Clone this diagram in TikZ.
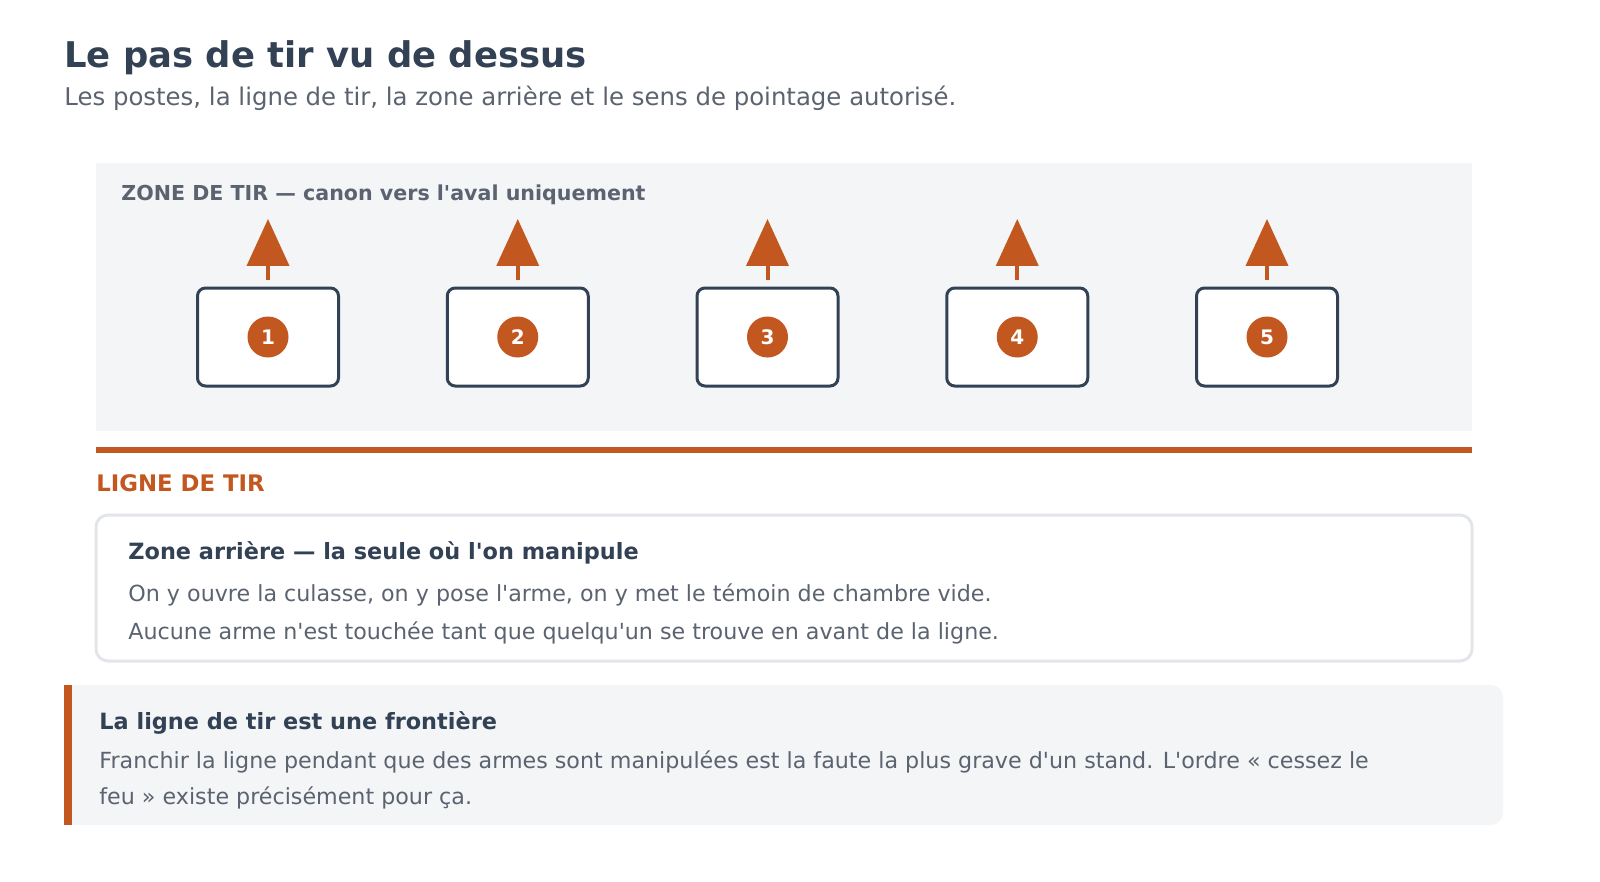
\documentclass[tikz,border=0pt]{standalone}
\usepackage{fontspec}
\setmainfont{DejaVu Sans}[Ligatures=TeXOff]
\usetikzlibrary{arrows.meta}

\definecolor{slate}{HTML}{334155}
\definecolor{muted}{HTML}{5C6370}
\definecolor{rust}{HTML}{C2571F}
\definecolor{panel}{HTML}{F3F5F7}
\definecolor{rim}{HTML}{E2E5EA}

\tikzset{
  post/.style={draw=slate, line width=1.5pt, fill=white, rounded corners=4pt,
    minimum width=70.5pt, minimum height=49pt, inner sep=0pt},
  badge/.style={circle, fill=rust, text=white, minimum size=20.5pt, inner sep=0pt,
    font=\bfseries\fontsize{10}{12}\selectfont},
  aim/.style={rust, line width=2pt, -{Triangle[width=21pt, length=23.5pt]}},
  txt/.style={anchor=base west, inner sep=0pt},
}

\begin{document}
\begin{tikzpicture}[x=0.5pt, y=-0.5pt]
% Parameters
\def\postnum{5}
\def\postgap{249.75}

\useasboundingbox[fill=white] (0,0) rectangle (1600,882);

% === Header ===
\node[txt, text=slate, font=\bfseries\fontsize{17.7}{21}\selectfont]
  (Title) at (64,68) {Le pas de tir vu de dessus};
\node[txt, text=muted, font=\fontsize{12.2}{14}\selectfont]
  (Subtitle) at (64,106) {Les postes, la ligne de tir, la zone arrière et le sens de pointage autorisé.};

% === Zone de tir ===
\fill[panel] (96,163) rectangle (1472,431);
\node[txt, text=muted, font=\bfseries\fontsize{10.3}{12}\selectfont]
  (ZoneLabel) at (121,201) {ZONE DE TIR — canon vers l'aval uniquement};

\foreach \i in {1,...,\postnum}{
  \node[post] (Post-\i) at ({268+(\i-1)*\postgap},337) {};
  \node[badge] (Badge-\i) at (Post-\i.center) {\i};
  \coordinate (Tip-\i) at ({268+(\i-1)*\postgap},219);
  \draw[aim] ([yshift=3.5pt]Post-\i.north) -- (Tip-\i);
}

% === Ligne de tir ===
\coordinate (LineL) at (96,450);
\coordinate (LineR) at (1472,450);
\draw[rust, line width=3pt] (LineL) -- (LineR);
\node[txt, text=rust, font=\bfseries\fontsize{11.4}{13}\selectfont]
  (LineLabel) at (96,491) {LIGNE DE TIR};

% === Zone arriere ===
\draw[rim, line width=1.5pt, fill=white, rounded corners=6pt] (96,515) rectangle (1472,661);
\node[txt, text=slate, font=\bfseries\fontsize{11.2}{13}\selectfont]
  (RearHead) at (128,559) {Zone arrière — la seule où l'on manipule};
\node[txt, text=muted, font=\fontsize{11.1}{13}\selectfont]
  (RearA) at (128,601) {On y ouvre la culasse, on y pose l'arme, on y met le témoin de chambre vide.};
\node[txt, text=muted, font=\fontsize{11.1}{13}\selectfont]
  (RearB) at (128,639) {Aucune arme n'est touchée tant que quelqu'un se trouve en avant de la ligne.};

% === Callout ===
\fill[panel, rounded corners=6pt] (64,685) rectangle (1503,825);
\fill[panel] (64,685) rectangle (100,825);
\fill[rust] (64,685) rectangle (72,825);
\node[txt, text=slate, font=\bfseries\fontsize{11.2}{13}\selectfont]
  (NoteHead) at (99,729) {La ligne de tir est une frontière};
\node[txt, text=muted, font=\fontsize{11.1}{13}\selectfont]
  (NoteA) at (99,768) {Franchir la ligne pendant que des armes sont manipulées est la faute la plus grave d'un stand. L'ordre « cessez le};
\node[txt, text=muted, font=\fontsize{11.1}{13}\selectfont]
  (NoteB) at (99,804) {feu » existe précisément pour ça.};
\end{tikzpicture}
\end{document}
